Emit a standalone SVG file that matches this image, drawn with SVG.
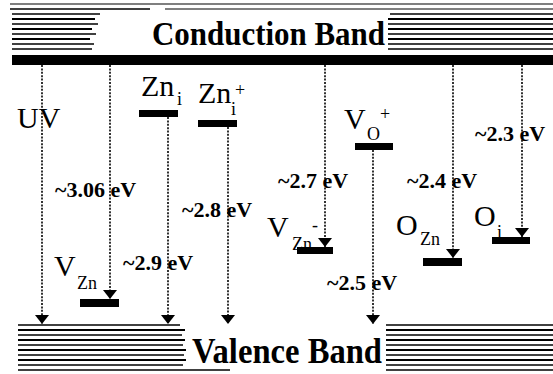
<svg xmlns="http://www.w3.org/2000/svg" width="553" height="374" viewBox="0 0 553 374">
<style>
.dot{stroke:#000;stroke-width:1.6;stroke-dasharray:2 1.4;fill:none}
.lvl{fill:#000}
.st{stroke:#000;fill:none}
.t{font-family:"Liberation Serif","Times New Roman",serif;fill:#000}
.lbl{font-size:30px}
.sub{font-size:18px}
.ev{font-size:22px;font-weight:bold}
.band{font-size:33px;font-weight:bold}
</style>
<defs>
<marker id="ah" viewBox="0 -7 9 14" refX="9" refY="0" markerWidth="9" markerHeight="14" markerUnits="userSpaceOnUse" orient="auto">
<path d="M0,-7 L9,0 L0,7 Z" fill="#000"/>
</marker>
</defs>
<rect width="553" height="374" fill="#fff"/>
<g id="conduction-band">
<g class="st">
<line x1="10" y1="4" x2="553" y2="4" stroke-width="1.2"/>
<line x1="10" y1="9" x2="150" y2="9" stroke-width="1.5"/>
<line x1="165" y1="9" x2="553" y2="9" stroke-width="1.2"/>
<line x1="12" y1="14" x2="100" y2="14" stroke-width="1.5"/>
<line x1="12" y1="19" x2="95" y2="19" stroke-width="2"/>
<line x1="12" y1="24" x2="98" y2="24" stroke-width="1.5"/>
<line x1="12" y1="29" x2="92" y2="29" stroke-width="2"/>
<line x1="12" y1="34" x2="96" y2="34" stroke-width="1.5"/>
<line x1="12" y1="39" x2="90" y2="39" stroke-width="2"/>
<line x1="12" y1="44" x2="94" y2="44" stroke-width="1.5"/>
<line x1="12" y1="49" x2="92" y2="49" stroke-width="1.5"/>
<line x1="390" y1="14" x2="553" y2="14" stroke-width="1.5"/>
<line x1="388" y1="19" x2="553" y2="19" stroke-width="2"/>
<line x1="388" y1="24" x2="553" y2="24" stroke-width="1.5"/>
<line x1="388" y1="29" x2="553" y2="29" stroke-width="2"/>
<line x1="388" y1="34" x2="553" y2="34" stroke-width="1.5"/>
<line x1="388" y1="39" x2="553" y2="39" stroke-width="2"/>
<line x1="388" y1="44" x2="553" y2="44" stroke-width="1.5"/>
<line x1="388" y1="49" x2="553" y2="49" stroke-width="1.5"/>
</g>
<rect x="12" y="55" width="541" height="10" fill="#000"/>
<text class="t band" x="152" y="45" textLength="233" lengthAdjust="spacingAndGlyphs">Conduction Band</text>
</g>
<g id="valence-band">
<g class="st">
<line x1="18" y1="325" x2="180" y2="325" stroke-width="1.5"/>
<line x1="18" y1="330" x2="185" y2="330" stroke-width="2"/>
<line x1="18" y1="335" x2="182" y2="335" stroke-width="1.5"/>
<line x1="18" y1="340" x2="185" y2="340" stroke-width="2"/>
<line x1="18" y1="345" x2="183" y2="345" stroke-width="1.5"/>
<line x1="18" y1="350" x2="186" y2="350" stroke-width="2"/>
<line x1="18" y1="355" x2="184" y2="355" stroke-width="1.5"/>
<line x1="18" y1="360" x2="186" y2="360" stroke-width="2"/>
<line x1="18" y1="365" x2="183" y2="365" stroke-width="1.5"/>
<line x1="18" y1="370" x2="230" y2="370" stroke-width="1.5"/>
<line x1="386" y1="325" x2="553" y2="325" stroke-width="1.5"/>
<line x1="386" y1="330" x2="553" y2="330" stroke-width="2"/>
<line x1="386" y1="335" x2="553" y2="335" stroke-width="1.5"/>
<line x1="386" y1="340" x2="553" y2="340" stroke-width="2"/>
<line x1="386" y1="345" x2="553" y2="345" stroke-width="1.5"/>
<line x1="386" y1="350" x2="553" y2="350" stroke-width="2"/>
<line x1="386" y1="355" x2="553" y2="355" stroke-width="1.5"/>
<line x1="386" y1="360" x2="553" y2="360" stroke-width="2"/>
<line x1="386" y1="365" x2="553" y2="365" stroke-width="1.5"/>
<line x1="386" y1="370" x2="553" y2="370" stroke-width="1.5"/>
</g>
<text class="t band" x="192" y="363" style="font-size:35px" textLength="190" lengthAdjust="spacingAndGlyphs">Valence Band</text>
</g>
<g id="uv">
<text class="t lbl" x="17" y="128">UV</text>
</g>
<g id="zn-i">
<rect class="lvl" x="139" y="110" width="39" height="7"/>
<text class="t lbl" x="141" y="96">Zn</text>
<text class="t sub" x="177" y="105">i</text>
</g>
<g id="zn-i-plus">
<rect class="lvl" x="198" y="120" width="39" height="7"/>
<text class="t lbl" x="198" y="103">Zn</text>
<text class="t sub" x="231" y="115">i</text>
<text class="t sub" x="235" y="96">+</text>
</g>
<g id="v-zn">
<rect class="lvl" x="80" y="299" width="39" height="8"/>
<text class="t lbl" x="54" y="276">V</text>
<text class="t sub" x="77" y="289">Zn</text>
</g>
<g id="v-zn-minus">
<rect class="lvl" x="297" y="247" width="36" height="7"/>
<text class="t lbl" x="267" y="237">V</text>
<text class="t sub" x="292" y="250">Zn</text>
<text class="t sub" x="312" y="231">-</text>
</g>
<g id="v-o-plus">
<rect class="lvl" x="355" y="143" width="38" height="7"/>
<text class="t lbl" x="344" y="129">V</text>
<text class="t sub" x="367" y="140">O</text>
<text class="t sub" x="380" y="120">+</text>
</g>
<g id="o-zn">
<rect class="lvl" x="423" y="258" width="39" height="8"/>
<text class="t lbl" x="396" y="235">O</text>
<text class="t sub" x="420" y="245">Zn</text>
</g>
<g id="o-i">
<rect class="lvl" x="492" y="237" width="38" height="7"/>
<text class="t lbl" x="474" y="226">O</text>
<text class="t sub" x="497" y="238">i</text>
</g>
<g id="connectors">
<line class="dot" x1="42" y1="65" x2="42" y2="324" marker-end="url(#ah)"/>
<line class="dot" x1="110" y1="65" x2="110" y2="299" marker-end="url(#ah)"/>
<line class="dot" x1="168" y1="117" x2="168" y2="324" marker-end="url(#ah)"/>
<line class="dot" x1="228" y1="127" x2="228" y2="324" marker-end="url(#ah)"/>
<line class="dot" x1="325" y1="65" x2="325" y2="247" marker-end="url(#ah)"/>
<line class="dot" x1="373" y1="150" x2="373" y2="324" marker-end="url(#ah)"/>
<line class="dot" x1="453" y1="65" x2="453" y2="258" marker-end="url(#ah)"/>
<line class="dot" x1="522" y1="65" x2="522" y2="237" marker-end="url(#ah)"/>
<text class="t ev" x="55" y="197">~3.06 eV</text>
<text class="t ev" x="123" y="270">~2.9 eV</text>
<text class="t ev" x="182" y="217">~2.8 eV</text>
<text class="t ev" x="278" y="188">~2.7 eV</text>
<text class="t ev" x="327" y="290">~2.5 eV</text>
<text class="t ev" x="407" y="188">~2.4 eV</text>
<text class="t ev" x="475" y="141">~2.3 eV</text>
</g>
</svg>
